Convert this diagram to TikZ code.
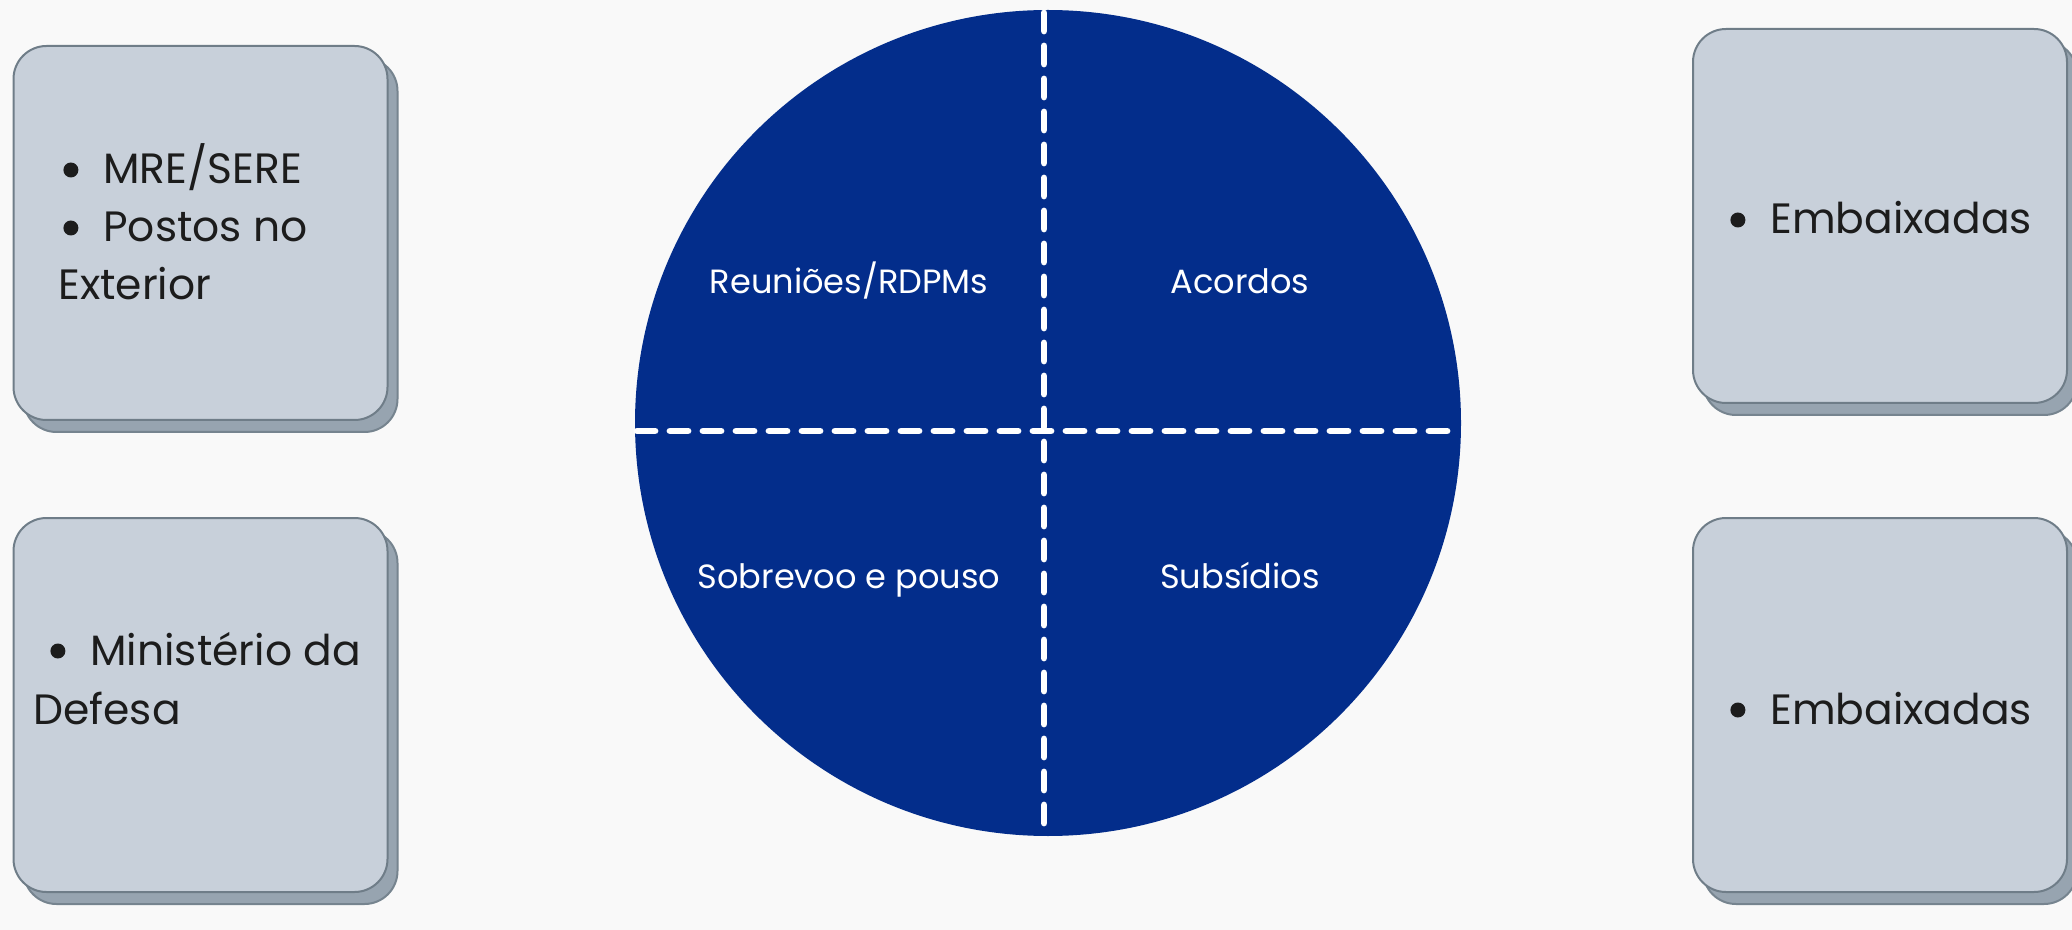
\documentclass[tikz,border=0pt]{standalone}
\usepackage{fontspec}
\setmainfont{Poppins}
\definecolor{bgc}{HTML}{F9F9F9}
\definecolor{cardfill}{HTML}{C8D0DA}
\definecolor{cardline}{HTML}{6F7D88}
\definecolor{shadowfill}{HTML}{97A4B0}
\definecolor{shadowline}{HTML}{76848F}
\definecolor{navy}{HTML}{032D8B}
\definecolor{ink}{HTML}{1C1C1C}
\tikzset{
  card/.style={draw=cardline, fill=cardfill, line width=1pt, rounded corners=16.5pt,
    minimum width=187pt, minimum height=187pt, inner sep=0pt,
    preaction={draw=shadowline, fill=shadowfill, line width=1pt,
      transform canvas={shift={(5pt,-6pt)}}}},
  boxtext/.style={anchor=base west, inner sep=0pt, font=\fontsize{21.2pt}{25pt}\selectfont, text=ink},
  disctext/.style={anchor=base, inner sep=0pt, font=\fontsize{16.8pt}{20pt}\selectfont, text=white},
  divider/.style={draw=white, line width=3.4pt, line cap=round, dash pattern=on 9pt off 7.5pt}
}
\newcommand{\bul}{\makebox[20pt][l]{\tikz[baseline={(0pt,-7pt)}]\fill[ink] (3.75pt,0pt) circle (3.75pt);}}
\begin{document}
\begin{tikzpicture}[x=0.5pt,y=-0.5pt]
\fill[bgc] (0,0) rectangle (2072,930);
\useasboundingbox (0,0) rectangle (2072,930);

% cards
\node[card] (c1) at (200.5,233) {};
\node[card] (c2) at (200.5,705) {};
\node[card] (c3) at (1880,216) {};
\node[card] (c4) at (1880,705) {};

\node[boxtext] (c1a) at (63,184) {\bul MRE/SERE};
\node[boxtext] (c1b) at (63,242) {\bul Postos no};
\node[boxtext] (c1c) at (58,300) {Exterior};

\node[boxtext] (c2a) at (50,665) {\bul Ministério da};
\node[boxtext] (c2b) at (33,724) {Defesa};

\node[boxtext] (c3a) at (1730,234) {\bul Embaixadas};
\node[boxtext] (c4a) at (1730,724) {\bul Embaixadas};

% disc
\node[circle, fill=navy, minimum size=413pt, inner sep=0pt] (disc) at (1048,423) {};
\coordinate (vt) at (1044,13);
\coordinate (vb) at (1044,833);
\coordinate (hl) at (637,431);
\coordinate (hr) at (1459,431);
\draw[divider] (vt) -- (vb);
\draw[divider] (hl) -- (hr);

\node[disctext] (q1) at (849,294) {Reuniões/RDPMs};
\node[disctext] (q2) at (1240,294) {Acordos};
\node[disctext] (q3) at (849,588) {Sobrevoo e pouso};
\node[disctext] (q4) at (1240,588) {Subsídios};
\end{tikzpicture}
\end{document}
